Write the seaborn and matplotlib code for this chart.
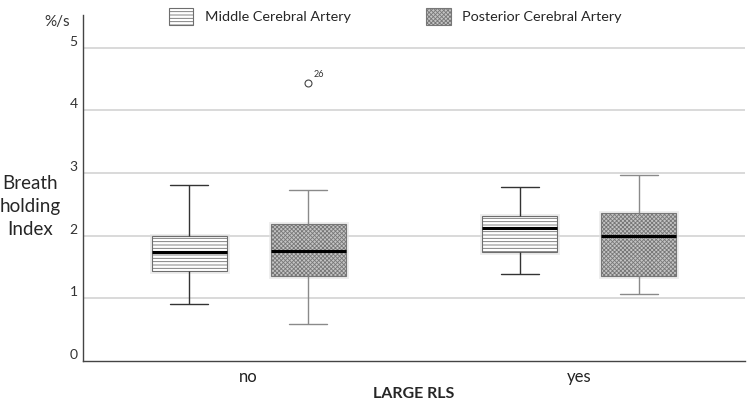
import pandas as pd
import matplotlib
matplotlib.use("Agg")
import matplotlib.pyplot as plt
import matplotlib.patheffects as pe
from matplotlib.patches import Patch
import seaborn as sns

# five-number summaries (Breath holding Index, %/s)
groups = ["no", "yes"]
arteries = ["Middle Cerebral Artery", "Posterior Cerebral Artery"]
mca_low = [0.91, 1.39]
mca_q1 = [1.44, 1.73]
mca_median = [1.745, 2.12]
mca_q3 = [1.995, 2.31]
mca_high = [2.81, 2.78]
pca_low = [0.585, 1.07]
pca_q1 = [1.36, 1.35]
pca_median = [1.76, 1.99]
pca_q3 = [2.19, 2.36]
pca_high = [2.72, 2.97]
pca_outliers = [[4.44], []]
outlier_case = "26"


def sample(low, q1, med, q3, high, extra=()):
    # values whose quartiles and whisker ends give back the summary
    return [low, q1, q1, med, med, q3, q3, high] + list(extra)


rows = []
for i, g in enumerate(groups):
    for v in sample(mca_low[i], mca_q1[i], mca_median[i], mca_q3[i], mca_high[i]):
        rows.append((g, arteries[0], v))
    for v in sample(pca_low[i], pca_q1[i], pca_median[i], pca_q3[i], pca_high[i], pca_outliers[i]):
        rows.append((g, arteries[1], v))
df = pd.DataFrame(rows, columns=["LARGE RLS", "artery", "bhi"])

sns.set_style("white")
plt.rcParams["font.family"] = ["Lato", "DejaVu Sans"]
plt.rcParams["hatch.linewidth"] = 0.6

fig = plt.figure(figsize=(7.5, 4.05), dpi=100)
ax = fig.add_axes([0.111, 0.109, 0.882, 0.854])

sns.boxplot(data=df, x="LARGE RLS", y="bhi", hue="artery", order=groups,
            hue_order=arteries, width=0.72, gap=0.37, ax=ax, legend=False,
            linecolor="#333333", linewidth=1.0,
            medianprops=dict(color="black", linewidth=2.2),
            flierprops=dict(marker="o", markersize=5, markerfacecolor="white",
                            markeredgecolor="#444444", markeredgewidth=0.8))

glow = [pe.Stroke(linewidth=3.5, foreground="#e2e2e2", alpha=0.6), pe.Normal()]
mca_style = dict(facecolor="white", edgecolor="#6e6e6e", hatch="-----")
pca_style = dict(facecolor="#c4c4c4", edgecolor="#777777", hatch="xxxxxxxx")

for p in ax.patches:
    xs = p.get_path().vertices[:, 0]
    cx = (xs.min() + xs.max()) / 2
    style = mca_style if cx < round(cx) else pca_style
    p.set_facecolor(style["facecolor"])
    p.set_edgecolor(style["edgecolor"])
    p.set_hatch(style["hatch"])
    p.set_linewidth(0.8)
    p.set_path_effects(glow)

for ln in ax.lines:
    xd = ln.get_xdata()
    if len(xd) == 0:
        continue
    cx = (min(xd) + max(xd)) / 2
    if ln.get_linewidth() > 2:
        continue
    if cx > round(cx):
        ln.set_color("#8a8a8a")
    if ln.get_marker() == "o" and len(ln.get_ydata()) > 0:
        ln.set_color("none")
        ln.set_markeredgecolor("#444444")
        ax.annotate(outlier_case, (xd[0], ln.get_ydata()[0]), xytext=(4, 4),
                    textcoords="offset points", fontsize=6.5, color="#333333")

ax.set_ylim(0, 5.52)
ax.set_xlim(-0.5, 1.5)
ax.set_yticks([0, 1, 2, 3, 4, 5])
for y in [1, 2, 3, 4, 5]:
    ax.axhline(y, color="#d9d9d9", linewidth=1.4, zorder=0)
ax.tick_params(axis="both", length=0)
ax.tick_params(axis="y", labelsize=10, labelcolor="#333333", pad=4)
ax.tick_params(axis="x", labelsize=12, labelcolor="#222222", pad=6)
for t in ax.get_yticklabels():
    t.set_va("bottom")

for s in ["top", "right"]:
    ax.spines[s].set_visible(False)
for s in ["left", "bottom"]:
    ax.spines[s].set_color("#444444")
    ax.spines[s].set_linewidth(1.0)

ax.set_xlabel("LARGE RLS", fontsize=11.5, fontweight="bold", labelpad=1)
ax.set_ylabel("")
fig.text(0.04, 0.49, "Breath\nholding\nIndex", ha="center", va="center",
         fontsize=13.5, linespacing=1.4)
ax.text(-0.02, 1.0, "%/s", transform=ax.transAxes, ha="right", va="top",
        fontsize=11, color="#333333")

handles = [Patch(label=arteries[0], linewidth=0.8, **mca_style),
           Patch(label=arteries[1], linewidth=0.8, **pca_style)]
fig.legend(handles=handles, loc="center", bbox_to_anchor=(0.527, 0.96),
           ncol=2, frameon=False, fontsize=10.4, handlelength=1.7,
           handleheight=1.4, columnspacing=5.2, handletextpad=0.8)

fig.savefig("out.png", dpi=100)
